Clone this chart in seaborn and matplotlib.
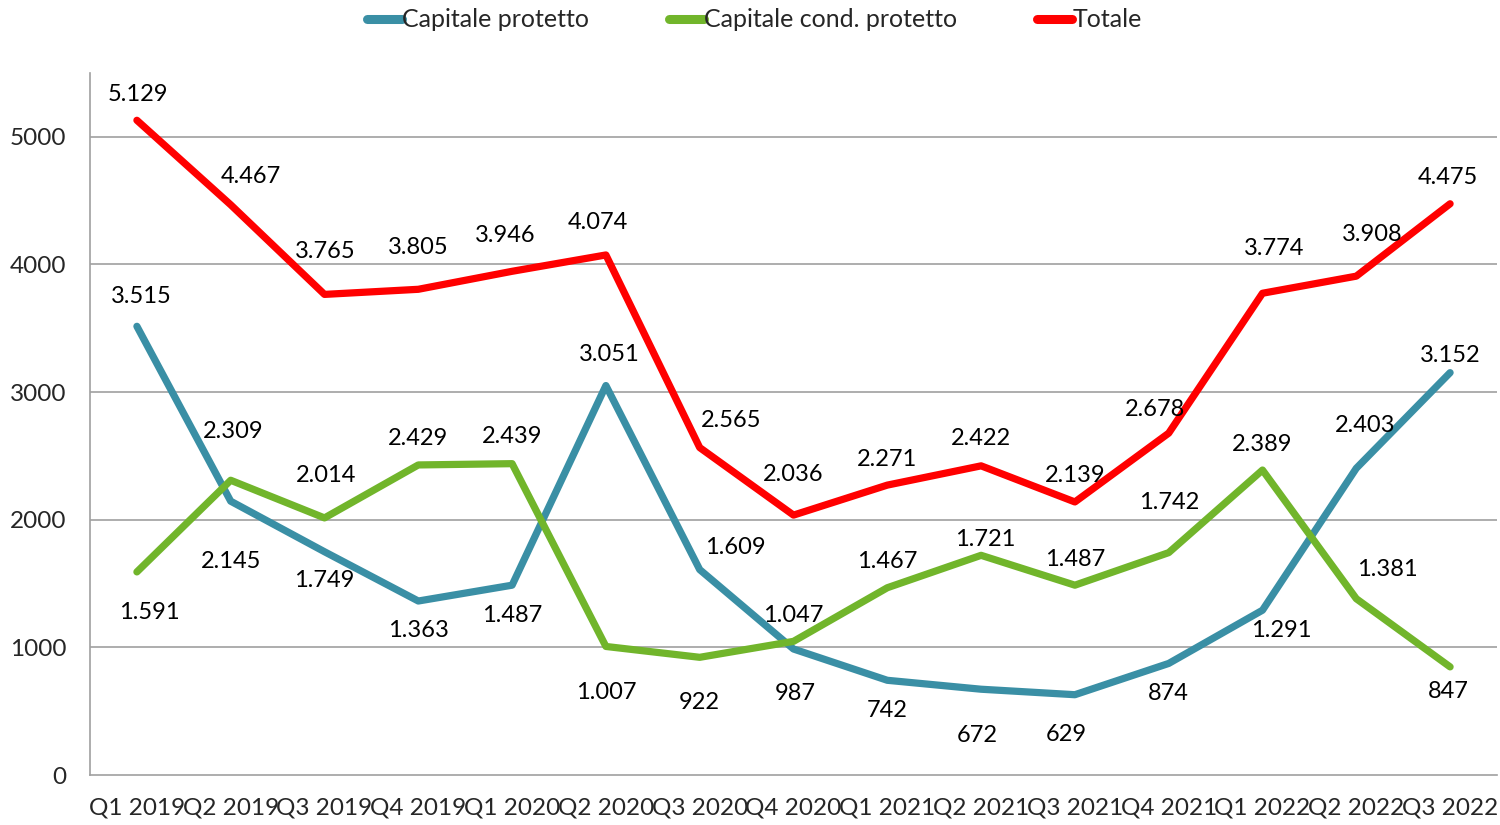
import pandas as pd
import numpy as np
import matplotlib.pyplot as plt
import seaborn as sns

# trimestri
trimestri = ["Q1 2019", "Q2 2019", "Q3 2019", "Q4 2019",
             "Q1 2020", "Q2 2020", "Q3 2020", "Q4 2020",
             "Q1 2021", "Q2 2021", "Q3 2021", "Q4 2021",
             "Q1 2022", "Q2 2022", "Q3 2022"]

protetto = [3515, 2145, 1749, 1363, 1487, 3051, 1609, 987, 742, 672, 629, 874, 1291, 2403, 3152]
cond_protetto = [1591, 2309, 2014, 2429, 2439, 1007, 922, 1047, 1467, 1721, 1487, 1742, 2389, 1381, 847]
totale = [5129, 4467, 3765, 3805, 3946, 4074, 2565, 2036, 2271, 2422, 2139, 2678, 3774, 3908, 4475]

serie = ["Capitale protetto", "Capitale cond. protetto", "Totale"]
colori = ["#3A8FA5", "#71B52B", "#FF0000"]

# spostamento delle etichette (pixel) rispetto al punto
off_protetto = [(4, 30), (0, -60), (0, -29), (0, -29), (0, -30), (3, 31), (36, 22), (2, -44),
                (0, -30), (-4, -46), (-9, -40), (0, -30), (19, -20), (9, 43), (0, 17)]
off_cond = [(12, -41), (2, 49), (2, 42), (0, 26), (0, 27), (0, -46), (0, -45), (0, 26),
            (0, 26), (4, 16), (0, 26), (0, 50), (0, 26), (31, 29), (-2, -25)]
off_tot = [(1, 26), (20, 28), (1, 43), (0, 42), (-7, 36), (-8, 32), (31, 27), (0, 41),
           (0, 26), (0, 27), (0, 26), (-14, 24), (12, 45), (16, 42), (-2, 26)]

df = pd.DataFrame({
    "trimestre": trimestri * 3,
    "x": list(range(len(trimestri))) * 3,
    "valore": protetto + cond_protetto + totale,
    "serie": [serie[0]] * 15 + [serie[1]] * 15 + [serie[2]] * 15,
})

sns.set_style("white")
plt.rcParams["font.family"] = ["Lato", "DejaVu Sans"]

fig = plt.figure(figsize=(15, 8.25), dpi=100)
ax = fig.add_axes([0.06, 0.0606, 0.938, 0.851])

sns.lineplot(data=df, x="x", y="valore", hue="serie", palette=colori,
             hue_order=serie, linewidth=5.2, ax=ax, legend=False,
             solid_capstyle="round")

for valori, offs in [(protetto, off_protetto), (cond_protetto, off_cond), (totale, off_tot)]:
    for i, v in enumerate(valori):
        testo = f"{v:,}".replace(",", ".")
        ax.annotate(testo, (i, v), xytext=offs[i], textcoords="offset pixels",
                    ha="center", va="center", fontsize=17, color="black")

ax.set_xlim(-0.5, 14.5)
ax.set_ylim(0, 5500)
ax.set_yticks([0, 1000, 2000, 3000, 4000, 5000])
ax.set_xticks(range(len(trimestri)))
ax.set_xticklabels(trimestri)
ax.tick_params(axis="both", labelsize=17.5, length=0)
ax.tick_params(axis="y", pad=17)
ax.tick_params(axis="x", pad=16)
ax.set_xlabel("")
ax.set_ylabel("")

for y in [1000, 2000, 3000, 4000, 5000]:
    ax.axhline(y, color="#A0A0A0", linewidth=1.2, zorder=0)

for s in ["top", "right"]:
    ax.spines[s].set_visible(False)
for s in ["left", "bottom"]:
    ax.spines[s].set_color("#A0A0A0")
    ax.spines[s].set_linewidth(1.2)

handles = [plt.Line2D([0], [0], color=c, linewidth=6.5, solid_capstyle="round") for c in colori]
fig.legend(handles, serie, loc="upper center", bbox_to_anchor=(0.503, 1.017), ncol=3,
           frameon=False, fontsize=18, handlelength=1.4, handletextpad=0.0,
           columnspacing=3.2)

plt.savefig("out.png", dpi=100)
plt.close()
